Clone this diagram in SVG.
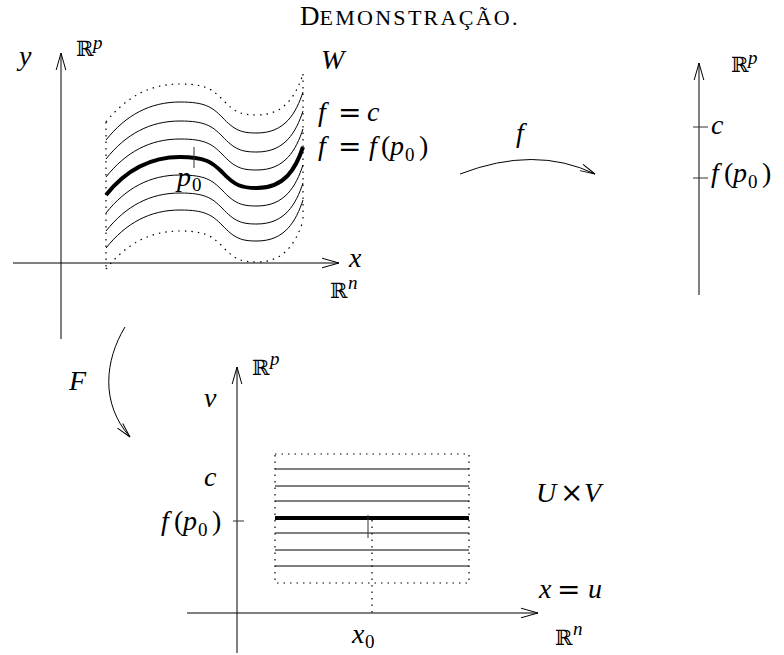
<svg xmlns="http://www.w3.org/2000/svg" width="784" height="655" viewBox="0 0 784 655">
<style>
.ax{stroke:#000;stroke-width:1;fill:none}
.thin{stroke:#000;stroke-width:1;fill:none}
.thick{stroke:#000;stroke-width:4;fill:none}
.dot{stroke:#000;stroke-width:1.2;fill:none;stroke-dasharray:1.5 5}
.tick{stroke:#333;stroke-width:1;fill:none}
.m{font-family:"Liberation Serif",serif;font-style:italic;font-size:28px;fill:#000}
.r{font-family:"Liberation Serif",serif;font-size:28px;fill:#000}
.s{font-family:"Liberation Serif",serif;font-size:19px;fill:#000}
.sup{font-family:"Liberation Serif",serif;font-style:italic;font-size:19px;fill:#000}
.eq{font-family:"DejaVu Serif",serif;font-size:28px;fill:#000}
.bb{font-family:"DejaVu Serif","DejaVu Sans",serif;font-size:21px;fill:#000}
.t{font-family:"Liberation Serif",serif;fill:#000}
</style>
<defs>
<marker id="ah" markerUnits="userSpaceOnUse" markerWidth="20" markerHeight="12" viewBox="0 0 20 12" refX="18" refY="6" orient="auto">
<path d="M1,1.2 L18,6 L1,10.8" fill="none" stroke="#000" stroke-width="1"/>
</marker>
<marker id="ahs" markerUnits="userSpaceOnUse" markerWidth="18" markerHeight="10" viewBox="0 0 18 10" refX="16" refY="5" orient="auto">
<path d="M1,1.5 L16,5 L1,8.5" fill="none" stroke="#000" stroke-width="1"/>
</marker>
<path id="wave" d="M106,195 C126,170 150,157 180,157 C205,157 212,162 222,172 C235,186 242,188 257,188 C285,188 296,168 303,147"/>
</defs>

<text class="t" x="300" y="25"><tspan font-size="27">D</tspan><tspan font-size="22" textLength="198" lengthAdjust="spacing">EMONSTRAÇÃO.</tspan></text>

<g id="domain">
<g id="axes-top">
<line class="ax" x1="61" y1="339" x2="61" y2="53" marker-end="url(#ah)"/>
<line class="ax" x1="13" y1="263" x2="339" y2="263" marker-end="url(#ah)"/>
</g>
<g id="level-sets">
<use href="#wave" class="dot" transform="translate(0,-73)"/>
<use href="#wave" class="thin" transform="translate(0,-55)"/>
<use href="#wave" class="thin" transform="translate(0,-36)"/>
<use href="#wave" class="thin" transform="translate(0,-18)"/>
<use href="#wave" class="thick"/>
<use href="#wave" class="thin" transform="translate(0,18)"/>
<use href="#wave" class="thin" transform="translate(0,36)"/>
<use href="#wave" class="thin" transform="translate(0,53)"/>
<use href="#wave" class="dot" transform="translate(0,74)"/>
<line class="dot" x1="106" y1="122" x2="106" y2="269"/>
<line class="dot" x1="303" y1="74" x2="303" y2="222"/>
<line class="tick" x1="194" y1="147" x2="194" y2="168"/>
</g>
<g id="labels-top">
<text class="m" x="19" y="65">y</text>
<text class="bb" x="76" y="56">ℝ</text><text class="sup" x="93" y="49">p</text>
<text class="m" x="349" y="267">x</text>
<text class="bb" x="330" y="298">ℝ</text><text class="sup" x="348" y="289">n</text>
<text class="m" x="321" y="69">W</text>
<text class="m" x="318" y="121">f</text><text class="eq" x="338" y="122">=</text><text class="m" x="367" y="121">c</text>
<text class="m" x="318" y="155">f</text><text class="eq" x="338" y="156">=</text><text class="m" x="369" y="155">f</text><text class="r" x="381" y="155">(</text><text class="m" x="390" y="155">p</text><text class="s" x="405" y="161">0</text><text class="r" x="419" y="155">)</text>
<text class="m" x="177" y="186">p</text><text class="s" x="192" y="191">0</text>
</g>
</g>

<g id="target">
<line class="ax" x1="699" y1="295" x2="699" y2="63" marker-end="url(#ah)"/>
<line class="tick" x1="693" y1="127" x2="708" y2="127"/>
<line class="tick" x1="693" y1="178" x2="708" y2="178"/>
<text class="bb" x="731" y="72">ℝ</text><text class="sup" x="748" y="64">p</text>
<text class="m" x="711" y="134">c</text>
<text class="m" x="711" y="182">f</text><text class="r" x="724" y="182">(</text><text class="m" x="733" y="182">p</text><text class="s" x="748" y="188">0</text><text class="r" x="762" y="182">)</text>
</g>

<g id="chart">
<line class="ax" x1="237" y1="653" x2="237" y2="367" marker-end="url(#ah)"/>
<line class="ax" x1="187" y1="613" x2="538" y2="613" marker-end="url(#ah)"/>
<rect class="dot" x="275" y="454" width="194" height="129"/>
<line class="thin" x1="275" y1="469" x2="469" y2="469"/>
<line class="thin" x1="275" y1="486" x2="469" y2="486"/>
<line class="thin" x1="275" y1="501" x2="469" y2="501"/>
<line class="thick" x1="275" y1="518" x2="469" y2="518"/>
<line class="thin" x1="275" y1="533" x2="469" y2="533"/>
<line class="thin" x1="275" y1="550" x2="469" y2="550"/>
<line class="thin" x1="275" y1="566" x2="469" y2="566"/>
<line class="tick" x1="368" y1="515" x2="368" y2="538"/>
<line class="dot" x1="372" y1="520" x2="372" y2="613"/>
<line class="tick" x1="233" y1="521" x2="244" y2="521"/>
<text class="bb" x="252" y="375">ℝ</text><text class="sup" x="270" y="365">p</text>
<text class="m" x="204" y="407">v</text>
<text class="m" x="204" y="486">c</text>
<text class="m" x="161" y="530">f</text><text class="r" x="174" y="530">(</text><text class="m" x="183" y="530">p</text><text class="s" x="198" y="536">0</text><text class="r" x="212" y="530">)</text>
<text class="m" x="536" y="502">U</text><text class="eq" x="560" y="502">×</text><text class="m" x="584" y="502">V</text>
<text class="m" x="539" y="598">x</text><text class="eq" x="557" y="599">=</text><text class="m" x="588" y="598">u</text>
<text class="bb" x="555" y="645">ℝ</text><text class="sup" x="573" y="635">n</text>
<text class="m" x="352" y="643">x</text><text class="s" x="365" y="648">0</text>
</g>

<g id="connectors">
<path class="thin" d="M460,174 Q535,145 595,174" marker-end="url(#ahs)"/>
<path class="thin" d="M125,327 C105,360 100,403 130,437" marker-end="url(#ahs)"/>
<text class="m" x="516" y="142">f</text>
<text class="m" x="69" y="390">F</text>
</g>
</svg>
